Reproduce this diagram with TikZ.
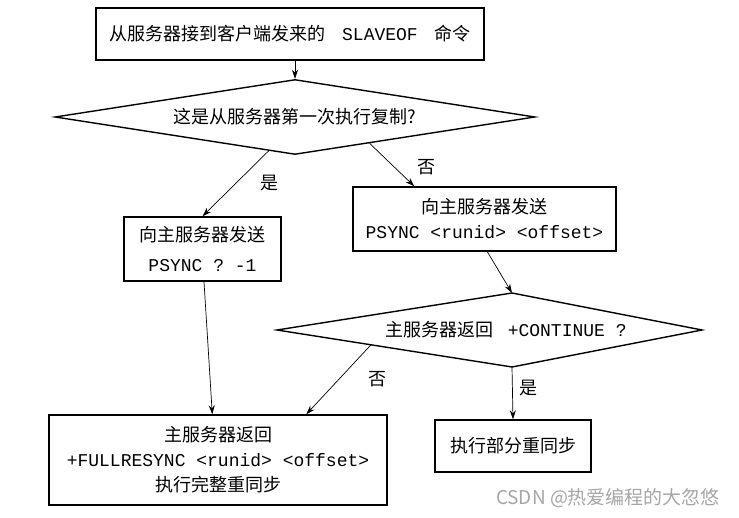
\documentclass[tikz,border=0pt]{standalone}
\usepackage{fontspec}
\setmainfont{Noto Sans CJK SC}
\setmonofont{Liberation Mono}
\usetikzlibrary{calc, positioning, shapes.geometric, arrows.meta}

\begin{document}
\begin{tikzpicture}[x=1pt, y=-1pt,
        font=\fontsize{18}{25}\selectfont,
        box/.style  = {draw, line width=1.4pt, inner sep=0pt, align=center},
        ask/.style  = {diamond, draw, line width=1.4pt, inner sep=0pt, aspect=6.4},
        flow/.style = {-{Stealth[length=9pt,width=6pt]}, line width=0.7pt} ]

\useasboundingbox (0,0) rectangle (739,518);

\node (recv)  [box, minimum width=388pt, minimum height=52pt] at (290,34)
      {从服务器接到客户端发来的\hspace{0.9em}\texttt{SLAVEOF}\hspace{0.9em}命令};
\node (first) [ask, minimum width=480pt, minimum height=75pt] at (295,117)
      {这是从服务器第一次执行复制?};
\node (fresh) [box, minimum width=157pt, minimum height=64pt] at (202.5,249)
      {向主服务器发送\\[5pt]\texttt{PSYNC ? -1}};
\node (again) [box, minimum width=263pt, minimum height=64pt] at (484.5,219)
      {向主服务器发送\\\texttt{PSYNC <runid> <offset>}};

% second question, its top corner is off centre
\coordinate (d2n) at (512,293);
\coordinate (d2e) at (702,330);
\coordinate (d2s) at (512,367);
\coordinate (d2w) at (277,330);
\draw[line width=1.4pt] (d2n) -- (d2e) -- (d2s) -- (d2w) -- cycle;
\node (cont) at (506,330) {主服务器返回\hspace{0.8em}\texttt{+CONTINUE ?}};

\node (full)  [box, minimum width=338pt, minimum height=90pt] at (218,460)
      {主服务器返回\\\texttt{+FULLRESYNC <runid> <offset>}\\执行完整重同步};
\node (part)  [box, minimum width=156pt, minimum height=52pt] at (513,446)
      {执行部分重同步};

\draw[flow] (first.north |- recv.south) -- (first.north);
\draw[flow] ($(first.south)!0.11!(first.west)$) -- (fresh.north);
\draw[flow] ($(first.south)!0.31!(first.east)$) -- ($(again.north west)+(62,0)$);
\draw[flow] ($(again.south west)+(135,0)$) -- (d2n);
\draw[flow] ($(fresh.south)+(1.5,0)$) -- ($(full.north west)+(164,0)$);
\draw[flow] ($(d2s)!0.6!(d2w)$) -- ($(full.north west)+(258,0)$);
\draw[flow] (d2s) -- (part.north);

\node (yes1) at (269,183) {是};
\node (no1)  at (426,167) {否};
\node (no2)  at (377,379) {否};
\node (yes2) at (528,388) {是};

\node (mark) [text=gray!70, font=\fontsize{19}{22}\selectfont] at (608,498)
      {CSDN @热爱编程的大忽悠};
\end{tikzpicture}
\end{document}
